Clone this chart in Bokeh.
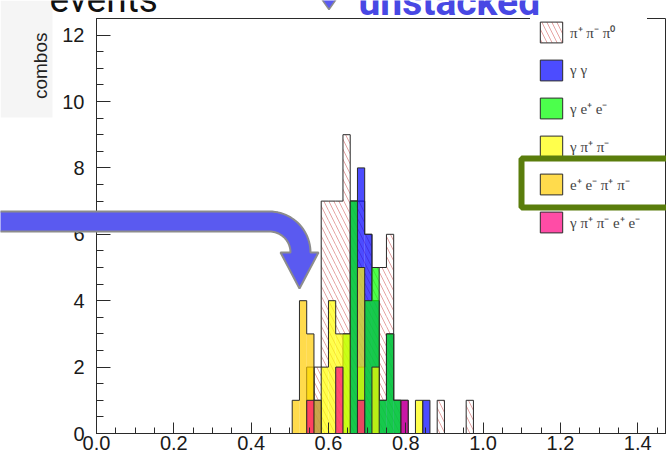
import numpy as np
from bokeh.plotting import figure
from bokeh.layouts import column
from bokeh.models import Range1d, FixedTicker, Legend, LegendItem, ColumnDataSource
from bokeh.core.properties import value
from bokeh.embed import file_html
from bokeh.resources import INLINE

# Histogram binning: 80 bins over [0, 1.5]; counts listed from FIRST_BIN on
X_LO, X_HI, N_BINS = 0.0, 1.5, 80
FIRST_BIN = 26

pi_pi_pi0  = [0, 0, 0, 0, 2, 7, 7, 7, 9, 7, 7, 6, 5, 5, 6, 1, 0, 0, 0, 0, 0, 1, 0, 0, 0, 1]
gam_gam    = [0, 0, 0, 0, 1, 0, 0, 0, 0, 7, 8, 6, 4, 1, 3, 1, 1, 0, 0, 1, 0, 0, 0, 0, 0, 0]
gam_ee     = [0, 0, 0, 0, 0, 0, 0, 0, 3, 7, 2, 4, 5, 1, 3, 1, 0, 0, 0, 0, 0, 0, 0, 0, 0, 0]
gam_pipi   = [0, 0, 0, 2, 0, 2, 4, 3, 3, 0, 5, 0, 2, 0, 0, 0, 0, 0, 1, 0, 0, 0, 0, 0, 0, 0]
ee_pipi    = [0, 1, 4, 3, 1, 0, 0, 0, 0, 0, 0, 0, 0, 0, 0, 0, 0, 0, 0, 0, 0, 0, 0, 0, 0, 0]
gam_pipiee = [0, 0, 0, 1, 0, 0, 0, 2, 0, 0, 1, 0, 0, 0, 0, 0, 1, 0, 0, 0, 0, 0, 0, 0, 0, 0]

series_labels = ["π⁺ π⁻ π⁰", "γ γ", "γ e⁺ e⁻", "γ π⁺ π⁻", "e⁺ e⁻ π⁺ π⁻", "γ π⁺ π⁻ e⁺ e⁻"]
series_counts = [pi_pi_pi0, gam_gam, gam_ee, gam_pipi, ee_pipi, gam_pipiee]
series_colors = [None, "#0000ff", "#00ff00", "#ffff00", "#ffcc00", "#ff0080"]

W, H = 666, 456
FONT = "Liberation Sans"
INK = "#2a2a2a"

edges = np.linspace(X_LO, X_HI, N_BINS + 1)

p = figure(width=W, height=H, output_backend="svg", toolbar_location=None,
           x_range=Range1d(0, 1.4744), y_range=Range1d(0, 12.5),
           min_border_left=96, min_border_right=0, min_border_top=18,
           min_border_bottom=23, background_fill_color="white",
           border_fill_color="white")
p.frame_align = False
p.grid.visible = False
p.outline_line_color = INK
p.outline_line_width = 1

# axes with the ticks pointing into the frame
for ax in (p.xaxis[0], p.yaxis[0]):
    ax.major_tick_out = 0
    ax.minor_tick_out = 0
    ax.axis_line_color = INK
    ax.major_tick_line_color = INK
    ax.minor_tick_line_color = INK
    ax.major_label_text_font = FONT
    ax.major_label_text_font_size = "20px"
    ax.major_label_text_color = "#1a1a1a"
p.xaxis.ticker = FixedTicker(ticks=[0, 0.2, 0.4, 0.6, 0.8, 1.0, 1.2, 1.4],
                             minor_ticks=list(np.round(np.arange(0, 1.5, 0.05), 3)))
p.xaxis.major_label_overrides = {0: "0.0", 1: "1.0"}
p.xaxis.major_tick_in = 11
p.xaxis.minor_tick_in = 6
p.xaxis.major_label_standoff = 2
p.yaxis.ticker = FixedTicker(ticks=[0, 2, 4, 6, 8, 10, 12],
                             minor_ticks=list(np.arange(0, 12.6, 0.5)))
p.yaxis.major_tick_in = 14
p.yaxis.minor_tick_in = 7
p.yaxis.major_label_standoff = 12

legend_items = []
for name, counts, color in zip(series_labels, series_counts, series_colors):
    counts = np.asarray(counts, dtype=float)
    idx = np.arange(FIRST_BIN, FIRST_BIN + len(counts))
    left, right = edges[idx], edges[idx + 1]
    keep = counts > 0
    src = ColumnDataSource(dict(left=left[keep], right=right[keep], top=counts[keep]))
    if color is None:
        style = dict(fill_color=None, hatch_pattern="left_diagonal_line",
                     hatch_color="#e6a3a3", hatch_weight=1, hatch_scale=10)
    else:
        style = dict(fill_color=color, fill_alpha=0.7)
    p.quad(left="left", right="right", top="top", bottom=0, source=src,
           line_color=None, **style)
    # step outline of the histogram
    xs = np.concatenate([[left[0]], np.repeat(edges[idx[0]:idx[-1] + 2], 2)[1:-1], [right[-1]]])
    ys = np.concatenate([[0], np.repeat(counts, 2), [0]])
    p.line(xs, ys, line_color=INK, line_width=1)
    # legend swatch: same fill, with a frame, no drawn extent
    swatch = p.quad(left=[np.nan], right=[np.nan], top=[np.nan], bottom=[np.nan],
                    line_color=INK, line_width=1, **style)
    legend_items.append(LegendItem(label=name, renderers=[swatch]))

legend = Legend(items=legend_items, location=(434, 191), glyph_width=28,
                glyph_height=26, spacing=12, padding=7, margin=0,
                label_text_font="Liberation Serif", label_text_font_size="15px",
                label_standoff=5, background_fill_color="white",
                background_fill_alpha=1, border_line_alpha=0)
p.add_layout(legend)

# transparent layer in page pixels for the captions and callouts
ov = figure(width=W, height=H, output_backend="svg", toolbar_location=None,
            x_range=Range1d(0, W), y_range=Range1d(0, H), min_border=0,
            x_axis_location=None, y_axis_location=None,
            background_fill_alpha=0, border_fill_alpha=0, outline_line_color=None)
ov.frame_align = False
ov.grid.visible = False
ov.margin = (-H, 0, 0, 0)


def up(py):
    """page pixel row (top = 0) -> layer y coordinate"""
    return H - np.asarray(py, dtype=float)


# faint panel behind the axis title
ov.quad(left=[0], right=[52], top=up([0]), bottom=up([117]),
        fill_color="#f5f5f5", line_color=None)
ov.text(x=[40], y=up([32]), text=["combos"], angle=np.pi / 2,
        text_font=value(FONT), text_font_size=value("19px"), text_color="#222222",
        text_align="right", text_baseline="middle")

# bent arrow: band from the left edge, quarter turn, head pointing down
cx, cy, r_out, r_in = 269.0, 252.0, 41.0, 21.0
t = np.linspace(-np.pi / 2, 0, 24)
outer_x, outer_y = cx + r_out * np.cos(t), cy + r_out * np.sin(t)
inner_x, inner_y = cx + r_in * np.cos(t[::-1]), cy + r_in * np.sin(t[::-1])
arrow_x = np.concatenate([[-5], outer_x, [318, 299, 280], inner_x, [-5]])
arrow_y = np.concatenate([[211], outer_y, [252, 288, 252], inner_y, [231]])
ov.patch(arrow_x, up(arrow_y), fill_color="#5a5af0", line_color="#8c8c8c",
         line_width=2)

# frame around the highlighted legend entry
ov.line([760, 521, 521, 760], up([158, 158, 207, 207]), line_color="#5a7d0c",
        line_width=6)

# captions cut by the top edge of the page
ov.text(x=[49], y=up([-1]), text=["events"], text_font=value("Roboto"),
        text_font_size=value("37px"), text_color="#111111", text_baseline="alphabetic")
ov.text(x=[358], y=up([1]), text=["unstacked"], text_font=value("Roboto"),
        text_font_size=value("39px"), text_font_style="bold", text_color="#4848e4",
        text_baseline="alphabetic")
ov.patch([320, 337, 328.5], up([-3, -3, 9]), fill_color="#5a5af0",
         line_color="#8c8c8c", line_width=1.5)

page = column(p, ov, spacing=0)
open("out.html", "w").write(file_html(page, INLINE))
